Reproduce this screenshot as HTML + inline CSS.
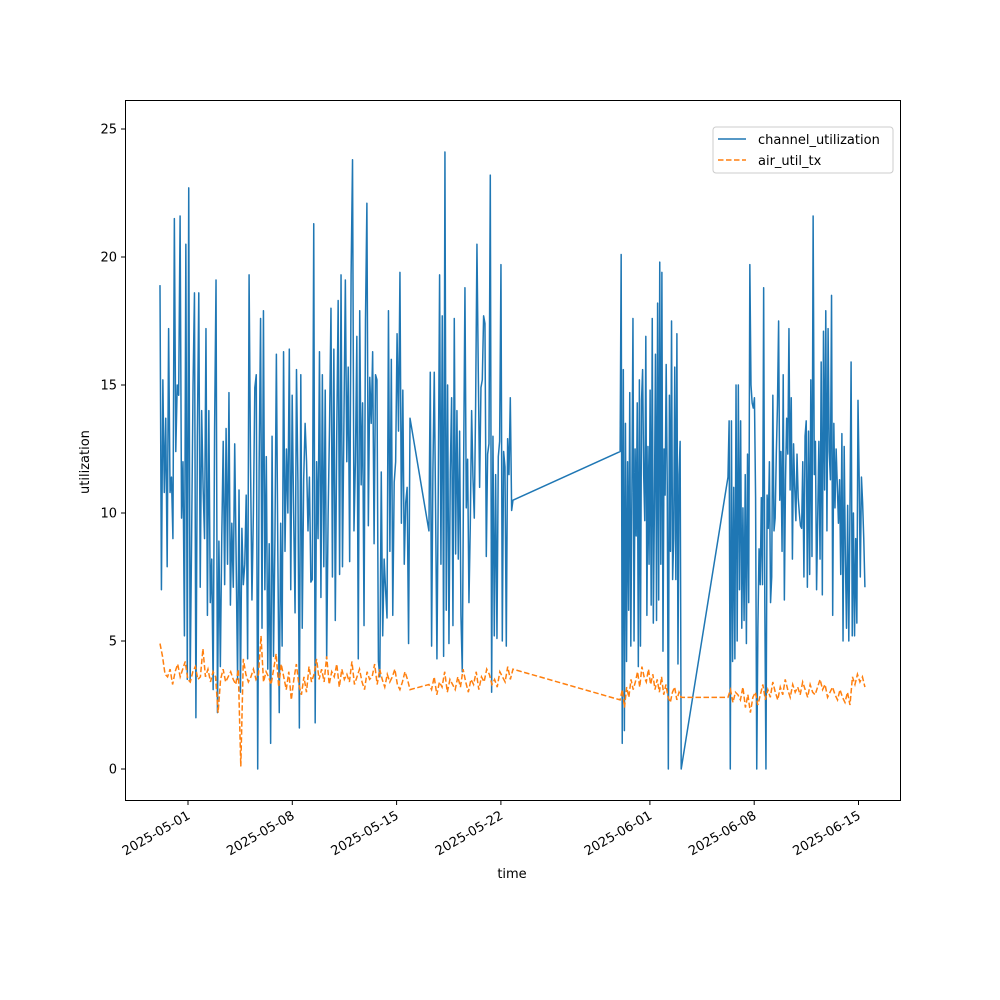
<!DOCTYPE html>
<html><head><meta charset="utf-8"><style>
html,body{margin:0;padding:0;background:#fff;}
svg{display:block;font-family:"DejaVu Sans","Liberation Sans",sans-serif;}
</style></head><body>
<svg id="chart" width="1000" height="1000" viewBox="0 0 1000 1000" xmlns="http://www.w3.org/2000/svg">
<rect x="0" y="0" width="1000" height="1000" fill="#fff"/>
<g id="series"></g>
<rect x="125.5" y="100.5" width="775" height="700" fill="none" stroke="#000" stroke-width="1"/>
<g id="axes"></g>
<text x="512" y="878" font-size="13" text-anchor="middle">time</text>
<text x="0" y="0" font-size="13" text-anchor="middle" transform="translate(89,462) rotate(-90)">utilization</text>
<g>
<rect x="713" y="127" width="180" height="46" rx="3" fill="#fff" stroke="#ccc" stroke-width="1"/>
<line x1="718" y1="139" x2="746" y2="139" stroke="#1f77b4" stroke-width="1.5"/>
<text x="758" y="144" font-size="13">channel_utilization</text>
<line x1="718" y1="160" x2="746" y2="160" stroke="#ff7f0e" stroke-width="1.5" stroke-dasharray="5.5,2.5"/>
<text x="758" y="165" font-size="13">air_util_tx</text>
</g>
</svg>
<script>
// time in days since 2025-04-29 00:00; each segment sampled at a regular interval
const segStarts = [0.12, 18.17, 31.0, 38.24];
const segEnds = [16.9, 23.81, 35.1, 47.43];
const blueSeg1 = [18.9,7,15.2,10.8,13.7,7.9,17.2,10.8,11.4,9,21.5,12.4,15,14.6,21.6,9.8,12,5.2,20.5,3.5,22.7,3.4,9,15,18.6,2,13,18.6,7.1,14,11,9,17.2,6,14,6.5,8.2,3.1,13.3,19.1,2.2,8.9,4,9.1,12.8,7.2,13.3,8,14.7,6.4,9.6,7.1,12.7,8.2,3.5,10.9,3,9.4,7.2,8,10.7,4.3,19.3,12,6.6,10,14.9,15.4,0,11.8,17.6,5.5,17.9,7,12.2,3.9,8.8,1,13,4.4,9,16.2,8.5,2.2,9.6,4.8,16.3,8.5,12.5,10,16.4,7,14.6,10,6.1,15.6,11.2,1.6,15.4,5.5,11.3,13.5,12,9.3,11.4,7.3,7.4,21.3,1.8,12,9,16.3,6.7,15.4,7.9,14.8,4.3,9.9,13.4,18,7.5,16.4,5.8,13,18.3,7.6,19.3,7.9,13.5,19.1,12,15.7,8.1,19.3,23.8,9.3,12,16.9,4.3,17.9,11.1,14.3,5.6,17.5,22.1,9.5,15.3,13.5,16.3,8.8,15.4,15.2,4.2,3.6,11.6,5.2,8.2,7,5.9,17.9,8.5,16,6,11.2,12,17,13.2,19.4,9.6,14.8,8,10.4,11,4.9,13.7];
const blueSeg2 = [9.3,15.5,4.8,11.7,15.5,10.1,4.3,11,19.3,8,17.7,4.4,24.1,6.2,15,4.9,11.6,14.5,5.6,17.6,8.4,14,8.2,13.2,6,3.8,11.8,18.8,10.2,12.1,6.5,9.5,14,11.4,9.8,14.2,20.5,15.5,11,14.9,15.2,17.7,17.4,8.3,12.3,12.7,23.2,3,13,5.2,11.5,5.1,12.2,12.8,19.7,5,12.4,11.8,4.8,12.9,11.5,14.5,10.1,10.5];
const blueSeg3 = [12.4,20.1,1,15.6,1.5,13.5,4.2,12,6.2,14.7,4.8,10.8,17.6,5,12.5,9.1,14.3,4,15.2,4.8,14.4,15.6,11.5,9.7,16.9,6,12.6,8,14.8,6.4,17.6,5.7,10.2,16.2,5.8,18.2,6.6,19.8,8,19.4,4.6,12.5,10.7,15.8,11,0,14.6,8.5,17.5,7.4,9,15.7,7.4,17,4.1,11.5,12.8,0];
const blueSeg4 = [11.4,13.6,0,13.6,4.2,11,4.3,15,5,15,7,13.6,5.5,10.2,5.8,11.5,4.9,12.3,6.5,19.7,15,14.3,14.1,14.5,10.6,0,5.5,8.6,7.2,10.6,7.2,18.8,6.5,0,10.7,9.4,12,6.5,7.5,14.6,9.3,9.8,12.3,14.2,17.5,10.5,12.4,8.5,15.4,6.6,11.3,13.7,12.3,17.2,10.9,14.5,8.2,12.7,11,9.7,12.3,10.6,10,9.5,9.4,12,7.5,13,13.6,7.1,13.2,7.6,15.2,8.3,21.6,11.5,12.8,7,9.9,12.8,8.2,15.9,6.8,17.1,10.9,17.9,9.3,17.2,12.4,11.3,18.5,6,13.5,10.2,12.5,11.1,9.6,11.3,7.6,13.1,5,12.6,8.3,5.5,10.3,5,10,15.9,5.2,10,5.2,9,5.7,14.4,11.4,7.5,11.4,10.4,9,7.1];
const orangeSeg1 = [4.9,4.4,3.7,3.6,3.9,3.3,3.8,4.1,3.6,3.9,4.2,3.5,3.4,3.8,4.0,3.5,3.6,4.7,3.6,3.9,3.4,3.8,3.6,2.2,3.5,3.9,3.4,3.6,3.8,3.5,3.3,3.9,0.1,4.3,3.7,3.4,3.6,3.9,3.5,3.7,5.2,3.4,3.8,3.6,3.3,3.9,4.5,3.2,4.1,3.6,3.1,3.8,2.7,3.5,4.1,3.3,2.9,3.6,3.0,4.0,3.4,3.7,4.3,3.5,3.9,3.4,4.4,3.3,3.8,3.6,4.1,3.2,3.9,3.5,3.7,3.4,4.2,3.3,3.6,3.9,3.4,3.1,3.8,3.5,3.6,4.1,3.3,3.9,3.5,3.2,3.7,3.4,3.6,3.9,3.3,3.1,3.4,3.8,3.5,3.1];
const orangeSeg2 = [3.3,3.1,3.6,2.9,3.4,3.2,3.8,3.0,3.5,3.3,3.1,3.6,3.2,3.9,3.4,3.0,3.5,3.3,3.8,3.1,3.6,3.4,3.9,3.7,3.3,3.5,3.2,3.8,3.6,3.4,4.0,3.5,3.9];
const orangeSeg3 = [2.7,3.1,2.4,3.2,2.8,3.5,3.1,3.4,3.8,3.2,4.0,3.6,3.4,3.9,3.3,3.7,3.1,3.5,3.0,3.6,2.9,3.3,2.8,2.6,3.0,3.2,2.7,3.0,2.8];
const orangeSeg4 = [2.8,3.1,2.6,3.0,2.9,2.7,3.2,2.4,2.9,2.2,2.8,3.0,2.5,2.9,3.3,2.7,3.1,2.8,3.4,3.0,2.7,3.2,2.9,3.5,3.1,2.8,3.3,3.0,3.2,2.9,3.4,3.1,2.8,3.3,3.0,2.9,3.2,3.5,3.1,3.3,2.8,3.0,3.2,2.9,2.7,3.1,2.8,2.6,3.0,2.5,3.6,3.3,3.7,3.4,3.6,3.2];
const xTickDays = [2, 9, 16, 23, 33, 40, 47];
const xTickLabels = ["2025-05-01","2025-05-08","2025-05-15","2025-05-22","2025-06-01","2025-06-08","2025-06-15"];
const yTicks = [0, 5, 10, 15, 20, 25];

const NS = "http://www.w3.org/2000/svg";
function xScale(d){ return 158.2 + d * 14.9; }
function yScale(v){ return 769 - v * 25.6; }

function buildPoints(segs){
  const pts = [];
  segs.forEach((vals, s) => {
    const n = vals.length, a = segStarts[s], b = segEnds[s];
    vals.forEach((v, i) => {
      const t = n > 1 ? a + (b - a) * i / (n - 1) : a;
      pts.push(xScale(t).toFixed(2) + "," + yScale(v).toFixed(2));
    });
  });
  return pts.join(" ");
}

const series = document.getElementById("series");
const blue = document.createElementNS(NS, "polyline");
blue.setAttribute("points", buildPoints([blueSeg1, blueSeg2, blueSeg3, blueSeg4]));
blue.setAttribute("fill", "none");
blue.setAttribute("stroke", "#1f77b4");
blue.setAttribute("stroke-width", "1.5");
blue.setAttribute("stroke-linejoin", "round");


series.appendChild(blue);

const orange = document.createElementNS(NS, "polyline");
orange.setAttribute("points", buildPoints([orangeSeg1, orangeSeg2, orangeSeg3, orangeSeg4]));
orange.setAttribute("fill", "none");
orange.setAttribute("stroke", "#ff7f0e");
orange.setAttribute("stroke-width", "1.5");
orange.setAttribute("stroke-dasharray", "5.5,2.5");


series.appendChild(orange);

const axes = document.getElementById("axes");
yTicks.forEach(v => {
  const y = yScale(v);
  const t = document.createElementNS(NS, "line");
  t.setAttribute("x1", 121); t.setAttribute("x2", 125.5);
  t.setAttribute("y1", y); t.setAttribute("y2", y);
  t.setAttribute("stroke", "#000");
  
  
  axes.appendChild(t);
  const l = document.createElementNS(NS, "text");
  l.setAttribute("x", 117); l.setAttribute("y", y + 4.5);
  l.setAttribute("font-size", "13"); l.setAttribute("text-anchor", "end");
  l.textContent = String(v);
  
  
  axes.appendChild(l);
});
xTickDays.forEach((d, i) => {
  const x = xScale(d);
  const t = document.createElementNS(NS, "line");
  t.setAttribute("x1", x); t.setAttribute("x2", x);
  t.setAttribute("y1", 800.5); t.setAttribute("y2", 805);
  t.setAttribute("stroke", "#000");
  
  
  axes.appendChild(t);
  const l = document.createElementNS(NS, "text");
  l.setAttribute("x", 0); l.setAttribute("y", 0);
  l.setAttribute("font-size", "13"); l.setAttribute("text-anchor", "end");
  l.setAttribute("transform", "translate(" + (x + 3) + ",818) rotate(-30)");
  l.textContent = xTickLabels[i];
  
  
  axes.appendChild(l);
});
</script>
</body></html>
